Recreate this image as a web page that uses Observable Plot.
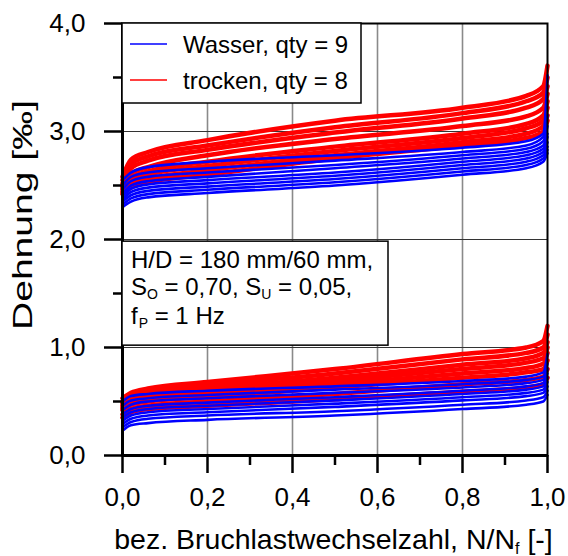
<!DOCTYPE html>
<html>
<head>
<meta charset="utf-8">
<script src="https://cdn.jsdelivr.net/npm/d3@7"></script>
<script src="https://cdn.jsdelivr.net/npm/@observablehq/plot@0.6"></script>
<style>
  html, body { margin: 0; padding: 0; background: #fff; }
  #chart { width: 568px; height: 556px; }
</style>
</head>
<body>
<div id="chart"></div>
<script>
// ---- data ----
const xs = [0, 0.02, 0.06, 0.2, 0.5, 0.8, 0.95, 0.99, 1.0];

// upper band (maximum strain)
const wasserOben = [
  [2.55, 2.62, 2.67, 2.72, 2.78, 2.85, 2.91, 2.98, 3.52],
  [2.50, 2.58, 2.62, 2.66, 2.73, 2.81, 2.87, 2.95, 3.15],
  [2.46, 2.54, 2.58, 2.62, 2.69, 2.78, 2.84, 2.91, 3.05],
  [2.42, 2.50, 2.54, 2.58, 2.66, 2.75, 2.81, 2.87, 2.98],
  [2.40, 2.47, 2.51, 2.55, 2.62, 2.72, 2.78, 2.84, 2.95],
  [2.37, 2.44, 2.48, 2.52, 2.59, 2.69, 2.75, 2.81, 2.90],
  [2.35, 2.41, 2.45, 2.49, 2.56, 2.66, 2.72, 2.78, 2.86],
  [2.32, 2.38, 2.42, 2.46, 2.53, 2.63, 2.69, 2.75, 2.83],
  [2.30, 2.35, 2.39, 2.43, 2.50, 2.60, 2.66, 2.72, 2.80]
];
const trockenOben = [
  [2.58, 2.74, 2.81, 2.92, 3.10, 3.22, 3.33, 3.42, 3.61],
  [2.55, 2.70, 2.77, 2.87, 3.04, 3.17, 3.28, 3.36, 3.50],
  [2.52, 2.66, 2.73, 2.83, 2.99, 3.12, 3.22, 3.30, 3.42],
  [2.50, 2.61, 2.67, 2.78, 2.93, 3.05, 3.14, 3.22, 3.35],
  [2.48, 2.57, 2.63, 2.72, 2.86, 2.98, 3.07, 3.15, 3.28],
  [2.46, 2.54, 2.60, 2.68, 2.82, 2.94, 3.03, 3.10, 3.22],
  [2.44, 2.51, 2.56, 2.64, 2.78, 2.90, 2.98, 3.05, 3.15],
  [2.42, 2.48, 2.53, 2.60, 2.75, 2.87, 2.94, 3.00, 3.10]
];
// lower band (minimum strain)
const wasserUnten = [
  [0.50, 0.55, 0.57, 0.60, 0.64, 0.69, 0.73, 0.77, 0.94],
  [0.46, 0.51, 0.53, 0.56, 0.61, 0.66, 0.70, 0.73, 0.85],
  [0.42, 0.47, 0.50, 0.53, 0.58, 0.63, 0.67, 0.70, 0.80],
  [0.38, 0.43, 0.46, 0.49, 0.54, 0.60, 0.64, 0.67, 0.76],
  [0.35, 0.40, 0.43, 0.46, 0.51, 0.57, 0.61, 0.64, 0.72],
  [0.32, 0.37, 0.40, 0.43, 0.48, 0.54, 0.58, 0.61, 0.68],
  [0.29, 0.34, 0.37, 0.40, 0.45, 0.51, 0.55, 0.58, 0.64],
  [0.26, 0.31, 0.34, 0.37, 0.41, 0.47, 0.51, 0.54, 0.60],
  [0.23, 0.28, 0.30, 0.33, 0.37, 0.43, 0.47, 0.50, 0.56]
];
const trockenUnten = [
  [0.53, 0.58, 0.62, 0.68, 0.80, 0.94, 1.00, 1.06, 1.20],
  [0.50, 0.55, 0.59, 0.65, 0.76, 0.89, 0.95, 1.00, 1.12],
  [0.48, 0.53, 0.56, 0.62, 0.72, 0.84, 0.90, 0.95, 1.05],
  [0.46, 0.51, 0.54, 0.59, 0.69, 0.80, 0.86, 0.90, 1.00],
  [0.44, 0.49, 0.52, 0.56, 0.66, 0.76, 0.81, 0.85, 0.95],
  [0.42, 0.47, 0.50, 0.54, 0.63, 0.72, 0.77, 0.80, 0.88],
  [0.38, 0.43, 0.46, 0.50, 0.57, 0.66, 0.70, 0.73, 0.80],
  [0.35, 0.40, 0.43, 0.46, 0.52, 0.59, 0.63, 0.66, 0.72]
];

const yMajor = [0, 1, 2, 3, 4];
const yMinor = [0.5, 1.5, 2.5, 3.5];
const yLabels = ["0,0", "1,0", "2,0", "3,0", "4,0"];
const xMajor = [0, 0.2, 0.4, 0.6, 0.8, 1.0];
const xMinor = [0.1, 0.3, 0.5, 0.7, 0.9];
const xLabels = ["0,0", "0,2", "0,4", "0,6", "0,8", "1,0"];
const seriesNames = ["Wasser, qty = 9", "trocken, qty = 8"];
const seriesColors = ["#0000ff", "#ff0000"];

// ---- tidy table ----
function toRows(curves, group, band) {
  const rows = [];
  curves.forEach((c, i) => c.forEach((v, j) => rows.push({x: xs[j], y: v, id: band + group + i, group})));
  return rows;
}
const redRows = [...toRows(trockenOben, "trocken", "o"), ...toRows(trockenUnten, "trocken", "u")];
const blueRows = [...toRows(wasserOben, "wasser", "o"), ...toRows(wasserUnten, "wasser", "u")];

const font = "'Liberation Sans', Arial, sans-serif";

const fig = Plot.plot({
  width: 568,
  height: 556,
  marginLeft: 122,
  marginRight: 21,
  marginTop: 23,
  marginBottom: 101,
  style: {fontFamily: font, background: "white", overflow: "visible"},
  x: {domain: [0, 1]},
  y: {domain: [0, 4]},
  marks: [
    Plot.ruleX([0.2, 0.4, 0.6, 0.8], {stroke: "#8a8a8a", strokeWidth: 1.6}),
    Plot.ruleY([1, 2, 3], {stroke: "#333", strokeWidth: 1}),
    Plot.line(redRows, {x: "x", y: "y", z: "id", stroke: seriesColors[1], strokeWidth: 4.5, curve: "monotone-x"}),
    Plot.line(blueRows, {x: "x", y: "y", z: "id", stroke: seriesColors[0], strokeWidth: 2.6, curve: "monotone-x"}),
    Plot.frame({stroke: "black", strokeWidth: 2}),
    Plot.ruleX([0], {stroke: "black", strokeWidth: 3}),
    Plot.ruleY([0], {stroke: "black", strokeWidth: 3}),
    Plot.axisY({ticks: yMajor, tickSize: 18, tickPadding: 19, strokeWidth: 2.5, fontSize: 26, label: null,
      tickFormat: d => yLabels[yMajor.indexOf(d)]}),
    Plot.axisY({ticks: yMinor, tickSize: 9, strokeWidth: 2.5, label: null, tickFormat: () => ""}),
    Plot.axisX({ticks: xMajor, tickSize: 18, tickPadding: 14, strokeWidth: 2.5, fontSize: 26, label: null,
      tickFormat: d => xLabels[xMajor.indexOf(d)]}),
    Plot.axisX({ticks: xMinor, tickSize: 10, strokeWidth: 2.5, label: null, tickFormat: () => ""})
  ]
});
document.getElementById("chart").appendChild(fig);

// ---- overlays (legend, annotation, axis titles) ----
const sx = fig.scale("x").apply, sy = fig.scale("y").apply;
const svg = d3.select(fig);
const x0 = sx(0), yTop = sy(4);

// legend box
const lg = svg.append("g").attr("font-family", font).attr("font-size", 24).attr("text-anchor", "start");
lg.append("rect").attr("x", x0).attr("y", yTop).attr("width", 239).attr("height", 80)
  .attr("fill", "white").attr("stroke", "black").attr("stroke-width", 1.5);
seriesNames.forEach((name, i) => {
  const cy = yTop + 21 + i * 36;
  lg.append("line").attr("x1", x0 + 8).attr("x2", x0 + 45).attr("y1", cy).attr("y2", cy)
    .attr("stroke", seriesColors[i]).attr("stroke-width", 1.5);
  lg.append("text").attr("x", x0 + 61).attr("y", cy + 8.5).text(name);
});

// annotation box
const ay = sy(1.98);
const an = svg.append("g").attr("font-family", font).attr("font-size", 24).attr("text-anchor", "start");
an.append("rect").attr("x", x0).attr("y", ay).attr("width", 266).attr("height", 104)
  .attr("fill", "white").attr("stroke", "black").attr("stroke-width", 1.5);
const t1 = an.append("text").attr("x", x0 + 9).attr("y", ay + 27);
t1.text("H/D = 180 mm/60 mm,");
const t2 = an.append("text").attr("x", x0 + 9).attr("y", ay + 54);
t2.append("tspan").text("S");
t2.append("tspan").attr("font-size", 14).attr("dy", 4).text("O");
t2.append("tspan").attr("dy", -4).text(" = 0,70, S");
t2.append("tspan").attr("font-size", 14).attr("dy", 4).text("U");
t2.append("tspan").attr("dy", -4).text(" = 0,05,");
const t3 = an.append("text").attr("x", x0 + 9).attr("y", ay + 83);
t3.append("tspan").text("f");
t3.append("tspan").attr("font-size", 14).attr("dy", 4).attr("dx", 1).text("P");
t3.append("tspan").attr("dy", -4).text(" = 1 Hz");

// x axis title
const xt = svg.append("text").attr("font-family", font).attr("font-size", 28.5)
  .attr("text-anchor", "middle").attr("x", (sx(0) + sx(1)) / 2 - 1).attr("y", 549);
xt.append("tspan").text("bez. Bruchlastwechselzahl, N/N");
xt.append("tspan").attr("font-size", 16).attr("dy", 5).text("f");
xt.append("tspan").attr("dy", -5).text(" [-]");

// y axis title
svg.append("text").attr("font-family", font).attr("font-size", 27)
  .attr("text-anchor", "middle").attr("textLength", 230).attr("lengthAdjust", "spacingAndGlyphs")
  .attr("transform", `translate(32,${(sy(0) + sy(4)) / 2 - 24}) rotate(-90)`)
  .text("Dehnung [‰]");
</script>
</body>
</html>
